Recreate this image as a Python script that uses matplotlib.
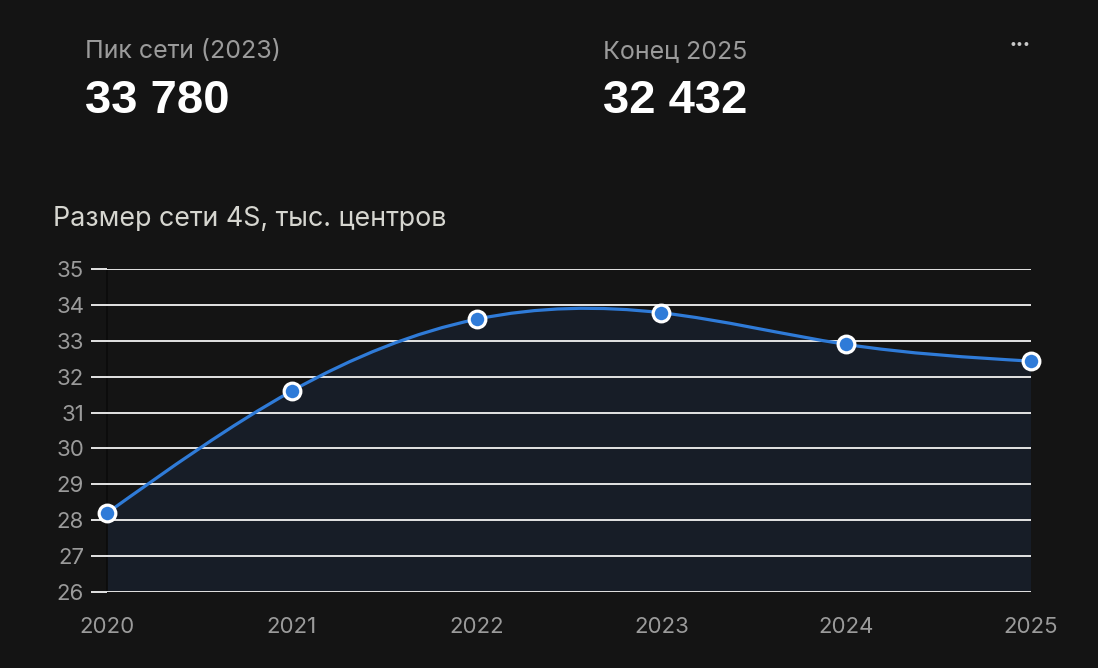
import numpy as np
import matplotlib.pyplot as plt
from matplotlib.path import Path
from matplotlib.patches import PathPatch

plt.rcParams['font.family'] = ['Inter', 'DejaVu Sans']

years = [2020, 2021, 2022, 2023, 2024, 2025]
size_k = [28.2, 31.6, 33.6, 33.78, 32.9, 32.432]
y_ticks = [26, 27, 28, 29, 30, 31, 32, 33, 34, 35]

kpi_labels = ["Пик сети (2023)", "Конец 2025"]
kpi_values = ["33 780", "32 432"]
chart_title = "Размер сети 4S, тыс. центров"

bg = "#141414"
blue = "#2f7bd8"
grid_c = "#e4e4e4"


def natural_bezier(x, y):
    # natural cubic spline as bezier segments (like d3 curveNatural)
    x = np.asarray(x, float)
    y = np.asarray(y, float)
    n = len(x) - 1

    def ctrl(v):
        a = np.zeros(n); b = np.zeros(n); r = np.zeros(n)
        a[0], b[0], r[0] = 0, 2, v[0] + 2 * v[1]
        for i in range(1, n - 1):
            a[i], b[i], r[i] = 1, 4, 4 * v[i] + 2 * v[i + 1]
        a[n - 1], b[n - 1], r[n - 1] = 2, 7, 8 * v[n - 1] + v[n]
        for i in range(1, n):
            m = a[i] / b[i - 1]
            b[i] -= m
            r[i] -= m * r[i - 1]
        p1 = np.zeros(n)
        p1[n - 1] = r[n - 1] / b[n - 1]
        for i in range(n - 2, -1, -1):
            p1[i] = (r[i] - p1[i + 1]) / b[i]
        p2 = np.zeros(n)
        p2[n - 1] = (v[n] + p1[n - 1]) / 2
        for i in range(n - 1):
            p2[i] = 2 * v[i + 1] - p1[i + 1]
        return p1, p2

    x1, x2 = ctrl(x)
    y1, y2 = ctrl(y)
    verts = [(x[0], y[0])]
    codes = [Path.MOVETO]
    for i in range(n):
        verts += [(x1[i], y1[i]), (x2[i], y2[i]), (x[i + 1], y[i + 1])]
        codes += [Path.CURVE4] * 3
    return verts, codes


fig = plt.figure(figsize=(10.98, 6.68), dpi=100, facecolor=bg)
ax = fig.add_axes([107 / 1098, 1 - 592 / 668, (1031 - 107) / 1098, (592 - 269) / 668])
ax.set_facecolor(bg)

verts, codes = natural_bezier(years, size_k)
fill_verts = verts + [(years[-1], y_ticks[0]), (years[0], y_ticks[0]), verts[0]]
fill_codes = codes + [Path.LINETO, Path.LINETO, Path.CLOSEPOLY]
ax.add_patch(PathPatch(Path(fill_verts, fill_codes), facecolor="#171d27",
                       edgecolor="none", zorder=1))
ax.add_patch(PathPatch(Path(verts, codes), facecolor="none", edgecolor=blue,
                       linewidth=2.3, zorder=3, capstyle="round"))
ax.plot(years, size_k, "o", markersize=12, markerfacecolor=blue,
        markeredgecolor="white", markeredgewidth=2.3, zorder=4, clip_on=False)

ax.set_xlim(2020, 2025)
ax.set_ylim(26, 35)
ax.set_yticks(y_ticks)
ax.set_xticks(years)
ax.set_axisbelow(False)
ax.grid(axis="y", color=grid_c, linewidth=1.4)
for s in ["top", "right", "bottom"]:
    ax.spines[s].set_visible(False)
ax.spines["left"].set_color("#0b0b0b")
ax.spines["left"].set_linewidth(1.2)
ax.tick_params(axis="y", length=11.5, width=1.4, color=grid_c, pad=5,
               labelsize=16, labelcolor="#9b9b9b")
ax.tick_params(axis="x", length=0, pad=18, labelsize=16, labelcolor="#9b9b9b")

for i, (lab, val) in enumerate(zip(kpi_labels, kpi_values)):
    x0 = [85, 603][i] / 1098
    fig.text(x0, 1 - 58 / 668, lab, color="#9b9b9b", fontsize=18, va="baseline")
    fig.text(x0, 1 - 113 / 668, val, color="white", fontsize=34, fontweight="bold",
             va="baseline", family=["Liberation Sans"])

fig.text(53 / 1098, 1 - 226 / 668, chart_title, color="#d6d6d0", fontsize=19.3,
         va="baseline")
fig.text(1020 / 1098, 1 - 45 / 668, "•••", color="#c8c8c8", fontsize=9,
         ha="center", va="center")

fig.savefig("out.png", dpi=100, facecolor=bg)
